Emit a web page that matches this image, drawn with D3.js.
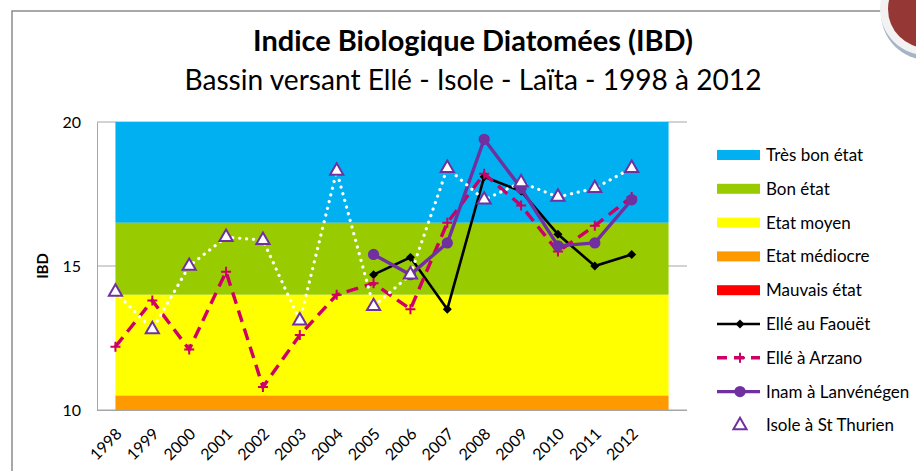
<!DOCTYPE html>
<html>
<head>
<meta charset="utf-8">
<script src="https://cdn.jsdelivr.net/npm/d3@7"></script>
<style>
  body { margin: 0; background: #fff; }
  text { font-family: Lato, "Open Sans", sans-serif; fill: #000; }
</style>
</head>
<body>
<div id="chart"></div>
<script>
// data
var years = ["1998", "1999", "2000", "2001", "2002", "2003", "2004", "2005",
    "2006", "2007", "2008", "2009", "2010", "2011", "2012"];

var faouet = [null, null, null, null, null, null, null, 14.7, 15.3, 13.5, 18.1, 17.6, 16.1, 15.0, 15.4];
var arzano = [12.2, 13.8, 12.1, 14.8, 10.8, 12.6, 14.0, 14.4, 13.5, 16.5, 18.2, 17.1, 15.5, 16.4, 17.4];
var inam = [null, null, null, null, null, null, null, 15.4, 14.7, 15.8, 19.4, 17.7, 15.7, 15.8, 17.3];
var isole = [14.1, 12.8, 15.0, 16.0, 15.9, 13.1, 18.3, 13.6, 14.7, 18.4, 17.3, 17.9, 17.4, 17.7, 18.4];

var bandNames = ["Très bon état", "Bon état", "Etat moyen", "Etat médiocre", "Mauvais état"];
var bandLow = [16.5, 14, 10.5, 6, 0];
var bandHigh = [20, 16.5, 14, 10.5, 6];
var bandColors = ["#00b0f0", "#99cc00", "#ffff00", "#ff9900", "#ff0000"];

var yTicks = [10, 15, 20];

var seriesNames = ["Ellé au Faouët", "Ellé à Arzano", "Inam à Lanvénégen", "Isole à St Thurien"];

var svgWidth = 916;
var svgHeight = 471;

var svg = d3.select("#chart").append("svg")
    .attr("width", svgWidth)
    .attr("height", svgHeight);

// slide frame + corner decoration
svg.append("path")
    .attr("d", "M12,471 L12,11 L882,11")
    .attr("fill", "none")
    .attr("stroke", "#8c8c8c")
    .attr("stroke-width", 1.5);

svg.append("circle").attr("cx", 928).attr("cy", 13).attr("r", 47).attr("fill", "#a6b4c8");
svg.append("circle").attr("cx", 926).attr("cy", 9).attr("r", 46).attr("fill", "#f2f2f2");
svg.append("circle").attr("cx", 927).attr("cy", 9).attr("r", 39).attr("fill", "#953735");

// plot area
var plot = { left: 97, right: 687, top: 122, bottom: 410 };

// one empty slot after 2012 so the bands run past the last year
var x = d3.scalePoint()
    .domain(years.concat(["end"]))
    .range([plot.left, plot.right])
    .padding(0.5);

var y = d3.scaleLinear()
    .domain([10, 20])
    .range([plot.bottom, plot.top]);

// gridlines
svg.append("g").selectAll("line")
    .data(yTicks)
    .enter()
    .append("line")
    .attr("x1", plot.left)
    .attr("x2", plot.right)
    .attr("y1", d => y(d))
    .attr("y2", d => y(d))
    .attr("stroke", "#a6a6a6")
    .attr("stroke-width", 1);

// quality bands (stacked areas), clipped to the axis range
var bandX = [years[0], "end"];
svg.append("g").selectAll("rect")
    .data(bandNames)
    .enter()
    .append("rect")
    .attr("x", x(bandX[0]))
    .attr("width", x(bandX[1]) - x(bandX[0]))
    .attr("y", (d, i) => y(Math.min(bandHigh[i], 20)))
    .attr("height", (d, i) => Math.max(0, y(Math.max(bandLow[i], 10)) - y(Math.min(bandHigh[i], 20))))
    .attr("fill", (d, i) => bandColors[i]);

// axes
var xAxis = svg.append("g")
    .attr("transform", `translate(0, ${plot.bottom})`)
    .call(d3.axisBottom(x).tickValues(years).tickSize(0).tickSizeOuter(0));
xAxis.select(".domain")
    .attr("d", `M${plot.left},0.5H${plot.right}`)
    .attr("stroke", "#a6a6a6");
xAxis.selectAll("text")
    .attr("font-size", "16px")
    .attr("text-anchor", "end")
    .attr("y", 0)
    .attr("dy", 0)
    .attr("transform", "translate(7, 25) rotate(-45)");

var yAxis = svg.append("g")
    .attr("transform", `translate(${plot.left}, 0)`)
    .call(d3.axisLeft(y).tickValues(yTicks).tickSize(0).tickPadding(16).tickSizeOuter(0));
yAxis.select(".domain").attr("stroke", "#a6a6a6");
yAxis.selectAll("text").attr("font-size", "16px");

svg.selectAll(".tick text").attr("font-family", "Lato, sans-serif").attr("fill", "#000");

svg.append("text")
    .attr("transform", `translate(48, ${y(15)}) rotate(-90)`)
    .attr("text-anchor", "middle")
    .attr("font-size", "15px")
    .attr("font-weight", "bold")
    .text("IBD");

// series
var line = d3.line()
    .defined(d => d.v !== null)
    .x(d => x(d.year))
    .y(d => y(d.v));

function toPoints(values) {
    return years.map((yr, i) => ({ year: yr, v: values[i] }));
}

var diamond = d3.symbol(d3.symbolSquare, 40)();
var plusPath = "M-5,0H5M0,-5V5";
var dot = d3.symbol(d3.symbolCircle, 100)();
var tri = d3.symbol(d3.symbolTriangle, 75)();

function drawSeries(values, lineStyle, marker) {
    var pts = toPoints(values).filter(d => d.v !== null);
    var path = svg.append("path")
        .datum(toPoints(values))
        .attr("fill", "none")
        .attr("d", line);
    lineStyle(path);
    svg.append("g").selectAll("path")
        .data(pts)
        .enter()
        .append("path")
        .attr("transform", d => `translate(${x(d.year)}, ${y(d.v)})` + (marker.rotate ? " rotate(45)" : ""))
        .attr("d", marker.d)
        .attr("fill", marker.fill)
        .attr("stroke", marker.stroke)
        .attr("stroke-width", marker.width);
}

var styles = [
    p => p.attr("stroke", "#000").attr("stroke-width", 2.6),
    p => p.attr("stroke", "#cc0066").attr("stroke-width", 3.4).attr("stroke-dasharray", "12,7"),
    p => p.attr("stroke", "#7030a0").attr("stroke-width", 3.4),
    p => p.attr("stroke", "#fff").attr("stroke-width", 3.2).attr("stroke-dasharray", "0.1,6.8").attr("stroke-linecap", "round")
];
var markers = [
    { d: diamond, fill: "#000", stroke: "none", width: 0, rotate: true },
    { d: plusPath, fill: "none", stroke: "#cc0066", width: 2 },
    { d: dot, fill: "#7030a0", stroke: "none", width: 0 },
    { d: tri, fill: "#fff", stroke: "#7030a0", width: 2 }
];

drawSeries(faouet, styles[0], markers[0]);
drawSeries(arzano, styles[1], markers[1]);
drawSeries(inam, styles[2], markers[2]);
drawSeries(isole, styles[3], markers[3]);

// legend
var legend = svg.append("g").attr("transform", "translate(717, 155)");
var legendStep = 33.8;

bandNames.forEach(function(name, i) {
    var g = legend.append("g").attr("transform", `translate(0, ${i * legendStep})`);
    g.append("rect").attr("x", 0).attr("y", -5).attr("width", 43).attr("height", 10).attr("fill", bandColors[i]);
    g.append("text").attr("x", 49).attr("dy", "0.35em").attr("font-size", "17px").text(name);
});

seriesNames.forEach(function(name, i) {
    var g = legend.append("g").attr("transform", `translate(0, ${(i + 5) * legendStep})`);
    if (i < 3) {
        var l = g.append("line").attr("x1", 0).attr("x2", 43).attr("y1", 0).attr("y2", 0);
        styles[i](l);
        if (i === 1) l.attr("stroke-dasharray", "10,7");
    }
    var m = markers[i];
    g.append("path")
        .attr("transform", "translate(23, 0)" + (m.rotate ? " rotate(45)" : ""))
        .attr("d", m.d)
        .attr("fill", m.fill)
        .attr("stroke", m.stroke)
        .attr("stroke-width", m.width);
    g.append("text").attr("x", 49).attr("dy", "0.35em").attr("font-size", "17px").text(name);
});

// titles, sized to the width they take in the picture
function fitTitle(str, weight, baseline, target) {
    var t = svg.append("text")
        .attr("x", 473)
        .attr("y", baseline)
        .attr("text-anchor", "middle")
        .attr("font-weight", weight)
        .attr("font-size", "24px")
        .text(str);
    var w = t.node().getComputedTextLength();
    t.attr("font-size", (24 * target / w).toFixed(2) + "px");
}
fitTitle("Indice Biologique Diatomées (IBD)", "bold", 51, 440);
fitTitle("Bassin versant Ellé - Isole - Laïta - 1998 à 2012", "normal", 90, 577);
</script>
</body>
</html>
